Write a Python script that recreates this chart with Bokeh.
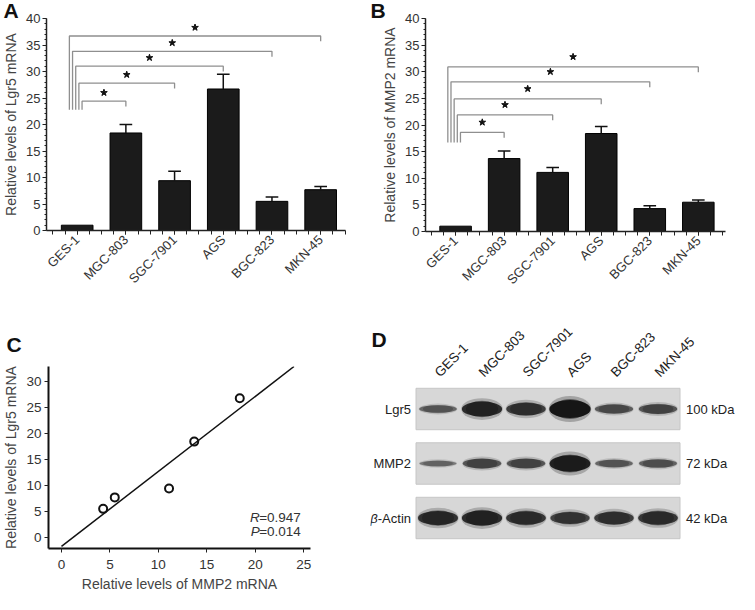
import math
import numpy as np
from bokeh.plotting import figure
from bokeh.models import (Range1d, FixedTicker, SingleIntervalTicker, Label)
from bokeh.core.properties import value
from bokeh.layouts import column, row
from bokeh.embed import file_html
from bokeh.resources import INLINE

# ---------------- data ----------------
cells = ["GES-1", "MGC-803", "SGC-7901", "AGS", "BGC-823", "MKN-45"]
lgr5 = [1.0, 18.4, 9.4, 26.7, 5.5, 7.7]
lgr5_err = [0.0, 1.6, 1.8, 2.8, 0.8, 0.6]
mmp2 = [1.0, 13.7, 11.1, 18.4, 4.3, 5.5]
mmp2_err = [0.0, 1.4, 0.9, 1.3, 0.55, 0.4]
# significance bracket heights (vs GES-1) for MGC-803 ... MKN-45
lgr5_brackets = [24.4, 27.8, 31.0, 33.8, 36.7]
lgr5_bracket_base = 22.8
mmp2_brackets = [18.6, 21.9, 24.9, 28.1, 30.9]
mmp2_bracket_base = 16.7
corr_R = "=0.947"
corr_P = "=0.014"
blot_rows = ["Lgr5", "MMP2", "β-Actin"]
blot_kda = ["100 kDa", "72 kDa", "42 kDa"]
band_lgr5 = [0.30, 0.80, 0.65, 1.00, 0.40, 0.45]
band_mmp2 = [0.18, 0.45, 0.45, 0.90, 0.30, 0.35]
band_actin = [0.75, 0.80, 0.70, 0.60, 0.65, 0.70]

FONT = "Liberation Sans"
TXT = "#333333"


def base_fig(**kw):
    p = figure(output_backend="svg", toolbar_location=None, **kw)
    p.outline_line_color = None
    p.background_fill_color = "white"
    p.border_fill_color = "white"
    p.frame_align = False
    return p


def style_axes(p):
    for ax in p.xaxis + p.yaxis:
        ax.axis_line_color = "#222222"
        ax.axis_line_width = 1.5
        ax.major_tick_line_color = "#222222"
        ax.minor_tick_line_color = "#222222"
        ax.major_tick_in = 0
        ax.minor_tick_in = 0
        ax.major_label_text_font = FONT
        ax.major_label_text_color = TXT
        ax.axis_label_text_font = FONT
        ax.axis_label_text_font_style = "normal"
        ax.axis_label_text_color = "#444444"
    p.grid.visible = False


def panel_letter(p, letter, left_border, standoff):
    t = p.title
    t.text = letter
    t.align = "left"
    t.offset = -left_border
    try:
        t.standoff = standoff
    except Exception:
        t.standoff = max(standoff, 0)
    t.text_font = FONT
    t.text_font_style = "bold"
    t.text_font_size = "21px"
    t.text_color = "#111111"


def bar_panel(values, errs, brackets, bbase, ylabel, xr, frame, letter, star_off):
    left, right, top, bottom, W, H = frame
    p = base_fig(width=W, height=H, x_range=Range1d(*xr), y_range=Range1d(0, 40),
                 min_border_left=left, min_border_right=right,
                 min_border_top=top, min_border_bottom=bottom)
    xs = list(range(len(values)))
    p.vbar(x=xs, top=values, bottom=0, width=0.65, fill_color="#1b1b1b",
           line_color="#000000", line_width=1)
    ex = [x for x, e in zip(xs, errs) if e > 0]
    ev = [v for v, e in zip(values, errs) if e > 0]
    et = [v + e for v, e in zip(values, errs) if e > 0]
    p.segment(x0=ex, y0=ev, x1=ex, y1=et, line_color="#111111", line_width=1.5)
    p.segment(x0=[x - 0.13 for x in ex], y0=et, x1=[x + 0.13 for x in ex], y1=et,
              line_color="#111111", line_width=1.5)
    # brackets
    bxs, bys, sx, sy = [], [], [], []
    for k, h in enumerate(brackets):
        tgt = k + 1
        vx = 0.10 - k * 0.065
        bxs.append([vx, vx, tgt, tgt])
        bys.append([bbase, h, h, h - 1.0])
        sx.append((vx + tgt) / 2)
        sy.append(h + star_off)
    p.multi_line(xs=bxs, ys=bys, line_color="#8f8f8f", line_width=1.3)
    p.scatter(x=sx, y=sy, marker="star", size=7, fill_color="#111111", line_color="#111111")

    p.xaxis.ticker = FixedTicker(ticks=xs, minor_ticks=[i * 0.25 for i in range(-2, 23)])
    p.xaxis.major_label_overrides = {i: c for i, c in enumerate(cells)}
    p.xaxis.major_label_orientation = math.pi / 4
    p.yaxis.ticker = SingleIntervalTicker(interval=5, num_minor_ticks=5)
    p.yaxis.axis_label = ylabel
    style_axes(p)
    p.xaxis.major_tick_out = 4
    p.xaxis.minor_tick_out = 4
    p.xaxis.major_label_text_font_size = "13px"
    p.xaxis.major_label_standoff = 3
    p.yaxis.major_tick_out = 4
    p.yaxis.minor_tick_out = 2
    p.yaxis.major_label_text_font_size = "13px"
    p.yaxis.major_label_standoff = 2
    p.yaxis.axis_label_text_font_size = "14px"
    p.yaxis.axis_label_standoff = 4
    panel_letter(p, letter, left, -7)
    return p


pA = bar_panel(lgr5, lgr5_err, lgr5_brackets, lgr5_bracket_base,
               "Relative levels of Lgr5 mRNA", (-0.63, 5.51),
               (43, 25, 15, 82, 370, 312), "A", 1.6)
pB = bar_panel(mmp2, mmp2_err, mmp2_brackets, mmp2_bracket_base,
               "Relative levels of MMP2 mRNA", (-0.62, 5.56),
               (55, 14, 18, 81, 369, 312), "B", 1.9)

# ---------------- panel C ----------------
cx = mmp2[1:]
cy = lgr5[1:]
slope, icpt = np.polyfit(cx, cy, 1)
yr = (-2.1, 32.8)
xr = (-1.34, 25.7)
x_end = (yr[1] - icpt) / slope
pC = base_fig(width=370, height=282, x_range=Range1d(*xr), y_range=Range1d(*yr),
              min_border_left=42, min_border_right=60, min_border_top=54, min_border_bottom=43)
pC.line(x=[0, x_end], y=[icpt, slope * x_end + icpt], line_color="#111111", line_width=1.5)
pC.scatter(x=cx, y=cy, marker="circle", size=8, fill_color=None, line_color="#111111",
           line_width=2)
pC.xaxis.ticker = FixedTicker(ticks=[0, 5, 10, 15, 20, 25])
pC.yaxis.ticker = FixedTicker(ticks=[0, 5, 10, 15, 20, 25, 30])
pC.xaxis.axis_label = "Relative levels of MMP2 mRNA"
pC.yaxis.axis_label = "Relative levels of Lgr5 mRNA"
style_axes(pC)
for ax in pC.xaxis + pC.yaxis:
    ax.axis_line_width = 2
    ax.axis_line_color = "#111111"
    ax.major_tick_out = 4
    ax.minor_tick_line_color = None
    ax.major_label_text_font_size = "13.5px"
    ax.axis_label_text_font_size = "14px"
pC.xaxis.major_label_standoff = 7
pC.xaxis.axis_label_standoff = 4
pC.yaxis.major_label_standoff = 3
pC.yaxis.axis_label_standoff = 4
# R / P annotation (italic letter + plain value)
for letter_rp, txt_val, yv in [("R", corr_R, 3.8), ("P", corr_P, 1.2)]:
    pC.add_layout(Label(x=24.7, y=yv, text=txt_val, text_font=FONT, text_font_size="13.5px",
                        text_color=TXT, text_align="right", text_baseline="middle"))
    pC.add_layout(Label(x=24.7, y=yv, x_offset=-41, text=letter_rp,
                        text_font=FONT, text_font_size="13.5px", text_font_style="italic",
                        text_color=TXT, text_align="right", text_baseline="middle"))
panel_letter(pC, "C", 42, 22)

# ---------------- panel D (blot, frame spans whole canvas) ----------------
LANE_PX, ROW_PX = 44.0, 54.5
lane0_px, row0_px = 67.5, 96.5
DW, DH = 369, 282
pD = base_fig(width=DW, height=DH,
              x_range=Range1d(-lane0_px / LANE_PX, (DW - lane0_px) / LANE_PX),
              y_range=Range1d((DH - row0_px) / ROW_PX, -row0_px / ROW_PX),
              x_axis_location=None, y_axis_location=None,
              min_border_left=0, min_border_right=0, min_border_top=0, min_border_bottom=0)
pD.grid.visible = False
lanes = list(range(len(cells)))
rows_idx = list(range(len(blot_rows)))
pD.rect(x=[2.5] * 3, y=rows_idx, width=6, height=0.76, fill_color="#d7d7d7",
        line_color="#c6c6c6", line_width=1)
for r, bands in enumerate([band_lgr5, band_mmp2, band_actin]):
    hpx = [3 + 15 * b for b in bands]
    h = [v / ROW_PX for v in hpx]
    w = [0.82 + 0.12 * b for b in bands]
    a = [0.3 + 0.7 * b for b in bands]
    pD.ellipse(x=lanes, y=[r] * 6, width=[v * 1.03 for v in w], height=[v * 1.45 for v in h],
               fill_color="#2a2a2a", fill_alpha=[v * 0.3 for v in a], line_color=None)
    pD.ellipse(x=lanes, y=[r] * 6, width=w, height=h, fill_color="#161616",
               fill_alpha=a, line_color=None)
    pD.ellipse(x=lanes, y=[r] * 6, width=[v * 0.8 for v in w], height=[v * 1.1 for v in h],
               fill_color="#161616", fill_alpha=[v * 0.5 for v in a], line_color=None)
# lane labels (rotated)
pD.text(x=[l - 1 / LANE_PX for l in lanes], y=[(62 - row0_px) / ROW_PX] * 6, text=cells,
        angle=math.pi / 4, text_align="left", text_baseline="middle",
        text_font=value(FONT), text_font_size=value("13.5px"), text_color="#222222")
# row labels
x_left = -0.5 - 5 / LANE_PX
plain_rows = [n if not n.startswith("β") else n[1:] for n in blot_rows]
pD.text(x=[x_left] * 3, y=rows_idx, text=plain_rows, text_align="right",
        text_baseline="middle", text_font=value(FONT), text_font_size=value("13px"),
        text_color="#222222")
beta_rows = [i for i, n in enumerate(blot_rows) if n.startswith("β")]
pD.text(x=[x_left - 33.2 / LANE_PX] * len(beta_rows), y=beta_rows,
        text=[blot_rows[i][0] for i in beta_rows], text_align="right",
        text_baseline="middle", text_font=value(FONT), text_font_size=value("13px"),
        text_font_style="italic", text_color="#222222")
# kDa labels
pD.text(x=[5.5 + 6 / LANE_PX] * 3, y=rows_idx, text=blot_kda, text_align="left",
        text_baseline="middle", text_font=value(FONT), text_font_size=value("13px"),
        text_color="#222222")
# panel letter
pD.text(x=[(1 - lane0_px) / LANE_PX], y=[(15 - row0_px) / ROW_PX], text=["D"],
        text_align="left", text_baseline="top", text_font=value(FONT),
        text_font_size=value("21px"), text_font_style="bold", text_color="#111111")

layout = column(row(pA, pB), row(pC, pD))
open("out.html", "w").write(file_html(layout, INLINE))
